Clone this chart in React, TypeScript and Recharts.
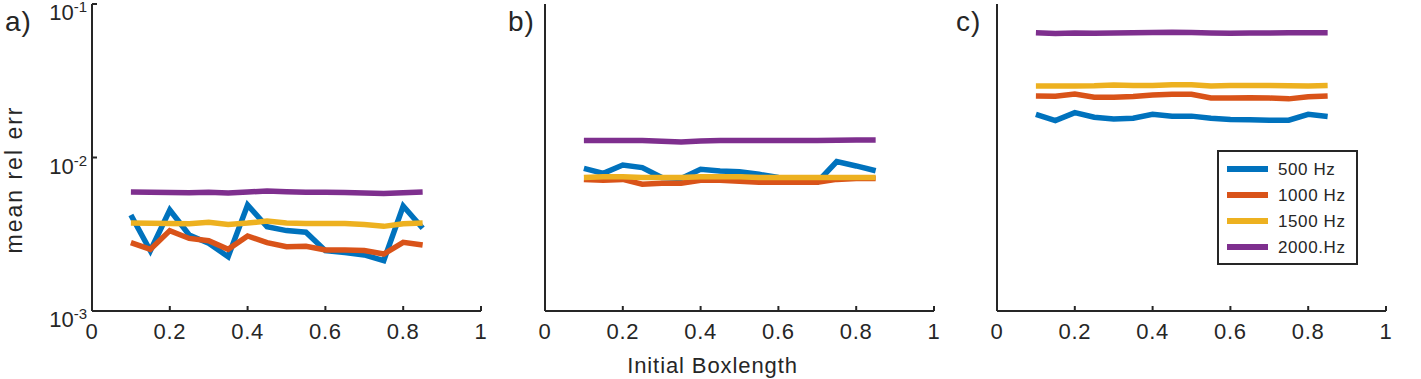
import React from "react";
import { LineChart, Line, XAxis, YAxis, Legend } from "recharts";

// box length values shared by all three panels
const boxLengths = [0.1, 0.15, 0.2, 0.25, 0.3, 0.35, 0.4, 0.45, 0.5, 0.55, 0.6, 0.65, 0.7, 0.75, 0.8, 0.85];

// panel a)
const a500 = [0.00422, 0.00247, 0.00455, 0.00313, 0.00276, 0.00226, 0.00491, 0.00354, 0.00334, 0.00326, 0.00247, 0.0024, 0.00232, 0.00213, 0.00483, 0.00346];
const a1000 = [0.00279, 0.00252, 0.00334, 0.00297, 0.00287, 0.00252, 0.00308, 0.00279, 0.00262, 0.00264, 0.0025, 0.0025, 0.00248, 0.00235, 0.0028, 0.00269];
const a1500 = [0.00375, 0.00373, 0.00372, 0.0037, 0.00378, 0.00366, 0.00374, 0.00385, 0.00375, 0.00372, 0.00372, 0.00371, 0.00366, 0.00356, 0.0037, 0.00375];
const a2000 = [0.00595, 0.00593, 0.00592, 0.0059, 0.00594, 0.00588, 0.00596, 0.00604, 0.00598, 0.00594, 0.00594, 0.00592, 0.00588, 0.00582, 0.0059, 0.00596];

// panel b)
const b500 = [0.0085, 0.00788, 0.00893, 0.00859, 0.0074, 0.0073, 0.00837, 0.00816, 0.00809, 0.00777, 0.0074, 0.0071, 0.0069, 0.0094, 0.00881, 0.0082];
const b1000 = [0.0072, 0.0071, 0.0072, 0.0067, 0.0068, 0.0068, 0.0071, 0.0071, 0.007, 0.0069, 0.0069, 0.0069, 0.0069, 0.0072, 0.0073, 0.0073];
const b1500 = [0.0074, 0.0075, 0.0075, 0.0074, 0.0074, 0.0074, 0.0075, 0.0075, 0.0075, 0.0074, 0.0074, 0.0074, 0.0074, 0.0074, 0.0074, 0.0074];
const b2000 = [0.0129, 0.0129, 0.0129, 0.0129, 0.01275, 0.0126, 0.0128, 0.0129, 0.0129, 0.0129, 0.0129, 0.0129, 0.0129, 0.01295, 0.013, 0.013];

// panel c)
const c500 = [0.0191, 0.0174, 0.0196, 0.0183, 0.0178, 0.018, 0.0191, 0.0186, 0.0186, 0.018, 0.0177, 0.0176, 0.0175, 0.0175, 0.0191, 0.0185];
const c1000 = [0.0252, 0.0251, 0.0259, 0.0247, 0.0247, 0.025, 0.0255, 0.0258, 0.0258, 0.0244, 0.0244, 0.0245, 0.0244, 0.0241, 0.0249, 0.0252];
const c1500 = [0.0292, 0.0292, 0.0292, 0.0293, 0.0297, 0.0295, 0.0295, 0.0298, 0.0298, 0.0292, 0.0294, 0.0295, 0.0295, 0.0293, 0.0292, 0.0294];
const c2000 = [0.065, 0.0642, 0.0648, 0.0645, 0.0648, 0.065, 0.0652, 0.0655, 0.0653, 0.0648, 0.0645, 0.0647, 0.0648, 0.065, 0.065, 0.065];

const xTicks = [0, 0.2, 0.4, 0.6, 0.8, 1];
const yTicks = [0.001, 0.01, 0.1];
const seriesNames = ["500 Hz", "1000 Hz", "1500 Hz", "2000.Hz"];
const seriesColors = ["#0072BD", "#D95319", "#EDB120", "#7E2F8E"];

const AXIS = "#262626";
const FONT = "Liberation Sans";
const PLOT_W = 389;
const PLOT_H = 307;
const TOP = 12;

function makeRows(s500: number[], s1000: number[], s1500: number[], s2000: number[]) {
  return boxLengths.map((x, i) => ({ x, s500: s500[i], s1000: s1000[i], s1500: s1500[i], s2000: s2000[i] }));
}

const panels = [
  { label: "a)", left: 92, rows: makeRows(a500, a1000, a1500, a2000), labelX: 5 },
  { label: "b)", left: 545, rows: makeRows(b500, b1000, b1500, b2000), labelX: 508 },
  { label: "c)", left: 997, rows: makeRows(c500, c1000, c1500, c2000), labelX: 956 },
];

// 10^n tick label with superscript
function PowTick(props: any) {
  const { x, y, payload } = props;
  const exp = Math.round(Math.log10(payload.value));
  return (
    <text x={x} y={y + 16} textAnchor="end" fill={AXIS} fontSize={22} fontFamily={FONT}>
      10
      <tspan dy={-8} fontSize={15}>
        {exp}
      </tspan>
    </text>
  );
}

function LegendBox(props: any) {
  const payload = [...(props.payload || [])].sort(
    (p: any, q: any) => seriesNames.indexOf(p.value) - seriesNames.indexOf(q.value)
  );
  return (
    <svg width={141} height={115} style={{ display: "block" }}>
      <rect x={1} y={1} width={139} height={113} fill="#fff" stroke={AXIS} strokeWidth={2} />
      {payload.map((p: any, i: number) => (
        <g key={p.value}>
          <line x1={10} x2={51} y1={19 + i * 26} y2={19 + i * 26} stroke={p.color} strokeWidth={6} />
          <text x={61} y={25 + i * 26} fontSize={17} letterSpacing={0.6} fill={AXIS} fontFamily={FONT}>
            {p.value}
          </text>
        </g>
      ))}
    </svg>
  );
}

function Panel({ index }: { index: number }) {
  const p = panels[index];
  const yw = index === 0 ? 92 : 60;
  return (
    <div style={{ position: "absolute", left: p.left - yw, top: 4 - TOP }}>
      <LineChart
        width={yw + PLOT_W + 10}
        height={TOP + PLOT_H + 70}
        data={p.rows}
        margin={{ top: TOP, right: 10, bottom: 0, left: 0 }}
      >
        <XAxis
          dataKey="x"
          type="number"
          domain={[0, 1]}
          ticks={xTicks}
          height={70}
          axisLine={{ stroke: AXIS, strokeWidth: 2 }}
          tickLine={{ stroke: AXIS, strokeWidth: 2 }}
          tickSize={-5}
          tickMargin={17}
          tick={{ fill: AXIS, fontSize: 22, fontFamily: FONT, letterSpacing: 0.7 }}
          label={
            index === 1
              ? {
                  value: "Initial Boxlength",
                  position: "insideTop",
                  offset: 46,
                  dx: -27,
                  fill: AXIS,
                  fontSize: 22,
                  fontFamily: FONT,
                  letterSpacing: 0.9,
                }
              : undefined
          }
        />
        <YAxis
          type="number"
          scale="log"
          domain={[0.001, 0.1]}
          ticks={yTicks}
          allowDataOverflow
          width={yw}
          axisLine={{ stroke: AXIS, strokeWidth: 2 }}
          tickLine={{ stroke: AXIS, strokeWidth: 2 }}
          tickSize={-5}
          tickMargin={10}
          tick={index === 0 ? <PowTick /> : false}
          label={
            index === 0
              ? {
                  value: "mean rel err",
                  angle: -90,
                  position: "center",
                  dx: -32,
                  dy: 22,
                  fill: AXIS,
                  fontSize: 23,
                  fontFamily: FONT,
                  letterSpacing: 2,
                }
              : undefined
          }
        />
        {["s500", "s1000", "s1500", "s2000"].map((k, i) => (
          <Line
            key={k}
            dataKey={k}
            name={seriesNames[i]}
            type="linear"
            stroke={seriesColors[i]}
            strokeWidth={5.5}
            dot={false}
            activeDot={false}
            isAnimationActive={false}
          />
        ))}
        {index === 2 && (
          <Legend
            layout="horizontal"
            align="center"
            verticalAlign="middle"
            content={<LegendBox />}
            wrapperStyle={{ position: "absolute", left: 280, top: 146 + TOP, width: 141, height: 115 }}
          />
        )}
      </LineChart>
    </div>
  );
}

export default function App() {
  return (
    <div
      style={{
        position: "absolute",
        left: 0,
        top: 0,
        width: 1421,
        height: 379,
        overflow: "hidden",
        background: "#fff",
        fontFamily: FONT,
      }}
    >
      {panels.map((p, i) => (
        <Panel key={p.label} index={i} />
      ))}
      {panels.map((p) => (
        <div
          key={p.label + "-tag"}
          style={{
            position: "absolute",
            left: p.labelX,
            top: 8,
            fontSize: 28,
            letterSpacing: 1,
            lineHeight: 1,
            color: AXIS,
          }}
        >
          {p.label}
        </div>
      ))}
    </div>
  );
}
